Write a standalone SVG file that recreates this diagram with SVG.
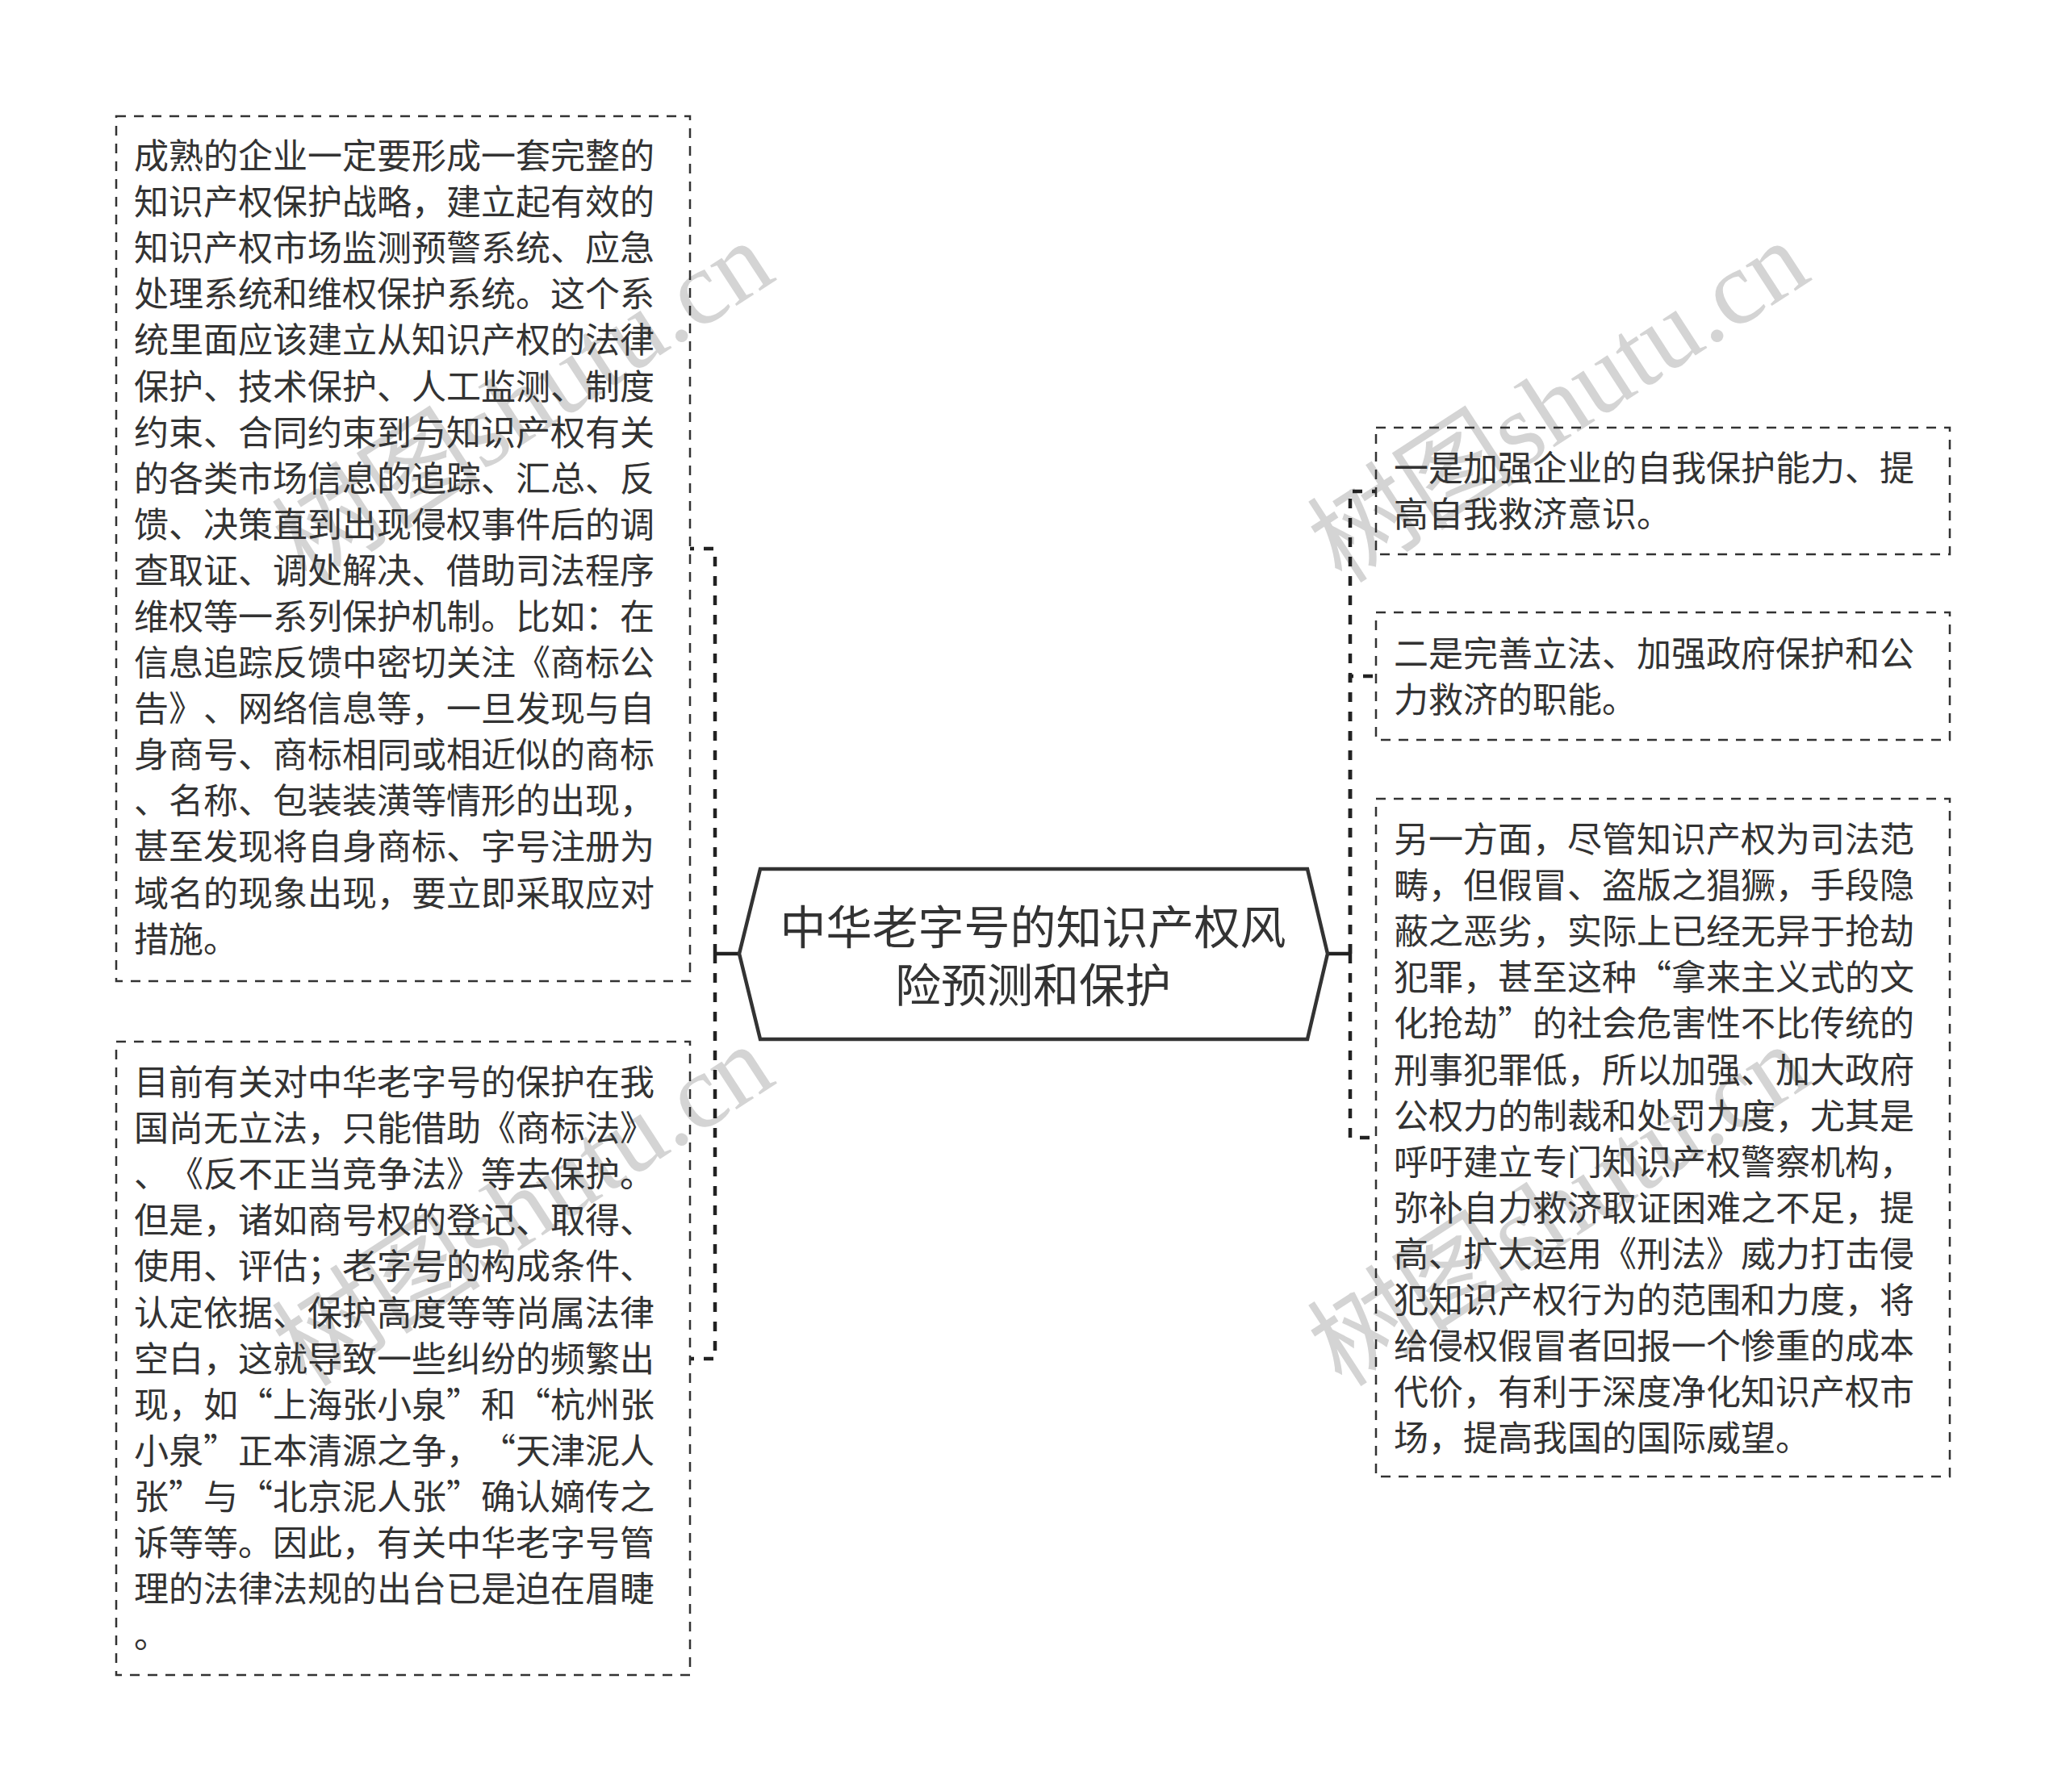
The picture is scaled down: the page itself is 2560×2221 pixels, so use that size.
<svg xmlns="http://www.w3.org/2000/svg" width="2560" height="2221" viewBox="0 0 2560 2221">
<style>
.box{fill:none;stroke:#333;stroke-width:2.5;stroke-dasharray:12 10}
.t{font-family:"Noto Sans CJK SC","Noto Sans",sans-serif;font-size:43px;fill:#333;text-spacing-trim:space-all;font-kerning:none}
.title{font-family:"Noto Sans CJK SC","Noto Sans",sans-serif;font-size:57px;fill:#333;text-anchor:middle}
.conn{fill:none;stroke:#222;stroke-width:4.5;stroke-dasharray:12 12}
.stub{fill:none;stroke:#222;stroke-width:4.5}
.wm{font-family:"Liberation Serif","Noto Sans CJK SC",serif;font-size:130px;fill:#d4d4d4}
</style>
<rect width="2560" height="2221" fill="#fff"/>
<g id="watermarks">
<text class="wm" transform="translate(380,725) rotate(-33)">树图shutu.cn</text>
<text class="wm" transform="translate(1663,725) rotate(-33)">树图shutu.cn</text>
<text class="wm" transform="translate(380,1721) rotate(-33)">树图shutu.cn</text>
<text class="wm" transform="translate(1663,1721) rotate(-33)">树图shutu.cn</text>
</g>
<g id="connectors">
<path class="stub" d="M916 1182 H886"/>
<path class="conn" d="M886 1182 V680 H855"/>
<path class="conn" d="M886 1182 V1684 H855"/>
<path class="stub" d="M1645 1182 H1673"/>
<path class="conn" d="M1673 1182 V609 H1705"/>
<path class="conn" d="M1673 1182 V838 H1705"/>
<path class="conn" d="M1673 1182 V1410 H1705"/>
</g>
<g id="center">
<polygon points="916,1182 942,1077 1620,1077 1645,1182 1620,1288 942,1288" fill="#fff" stroke="#333" stroke-width="4.5"/>
<text class="title"><tspan x="1280" y="1170">中华老字号的知识产权风</tspan><tspan x="1280" y="1242">险预测和保护</tspan></text>
</g>
<g id="left1">
<rect class="box" x="144" y="144" width="711" height="1072"/>
<text class="t"><tspan x="166" y="209">成熟的企业一定要形成一套完整的</tspan><tspan x="166" dy="57.1">知识产权保护战略，建立起有效的</tspan><tspan x="166" dy="57.1">知识产权市场监测预警系统、应急</tspan><tspan x="166" dy="57.1">处理系统和维权保护系统。这个系</tspan><tspan x="166" dy="57.1">统里面应该建立从知识产权的法律</tspan><tspan x="166" dy="57.1">保护、技术保护、人工监测、制度</tspan><tspan x="166" dy="57.1">约束、合同约束到与知识产权有关</tspan><tspan x="166" dy="57.1">的各类市场信息的追踪、汇总、反</tspan><tspan x="166" dy="57.1">馈、决策直到出现侵权事件后的调</tspan><tspan x="166" dy="57.1">查取证、调处解决、借助司法程序</tspan><tspan x="166" dy="57.1">维权等一系列保护机制。比如：在</tspan><tspan x="166" dy="57.1">信息追踪反馈中密切关注《商标公</tspan><tspan x="166" dy="57.1" textLength="645" lengthAdjust="spacing">告》、网络信息等，一旦发现与自</tspan><tspan x="166" dy="57.1">身商号、商标相同或相近似的商标</tspan><tspan x="166" dy="57.1">、名称、包装装潢等情形的出现，</tspan><tspan x="166" dy="57.1">甚至发现将自身商标、字号注册为</tspan><tspan x="166" dy="57.1">域名的现象出现，要立即采取应对</tspan><tspan x="166" dy="57.1">措施。</tspan></text>
</g>
<g id="left2">
<rect class="box" x="144" y="1291" width="711" height="785"/>
<text class="t"><tspan x="166" y="1357">目前有关对中华老字号的保护在我</tspan><tspan x="166" dy="57.1">国尚无立法，只能借助《商标法》</tspan><tspan x="166" dy="57.1" textLength="645" lengthAdjust="spacing">、《反不正当竞争法》等去保护。</tspan><tspan x="166" dy="57.1">但是，诸如商号权的登记、取得、</tspan><tspan x="166" dy="57.1">使用、评估；老字号的构成条件、</tspan><tspan x="166" dy="57.1">认定依据、保护高度等等尚属法律</tspan><tspan x="166" dy="57.1">空白，这就导致一些纠纷的频繁出</tspan><tspan x="166" dy="57.1">现，如“上海张小泉”和“杭州张</tspan><tspan x="166" dy="57.1" textLength="645" lengthAdjust="spacing">小泉”正本清源之争，“天津泥人</tspan><tspan x="166" dy="57.1">张”与“北京泥人张”确认嫡传之</tspan><tspan x="166" dy="57.1">诉等等。因此，有关中华老字号管</tspan><tspan x="166" dy="57.1">理的法律法规的出台已是迫在眉睫</tspan><tspan x="166" dy="57.1">。</tspan></text>
</g>
<g id="right1">
<rect class="box" x="1705" y="530" width="711" height="157"/>
<text class="t"><tspan x="1727" y="596">一是加强企业的自我保护能力、提</tspan><tspan x="1727" dy="57.1">高自我救济意识。</tspan></text>
</g>
<g id="right2">
<rect class="box" x="1705" y="759" width="711" height="158"/>
<text class="t"><tspan x="1727" y="826">二是完善立法、加强政府保护和公</tspan><tspan x="1727" dy="57.1">力救济的职能。</tspan></text>
</g>
<g id="right3">
<rect class="box" x="1705" y="990" width="711" height="840"/>
<text class="t"><tspan x="1727" y="1056">另一方面，尽管知识产权为司法范</tspan><tspan x="1727" dy="57.1">畴，但假冒、盗版之猖獗，手段隐</tspan><tspan x="1727" dy="57.1">蔽之恶劣，实际上已经无异于抢劫</tspan><tspan x="1727" dy="57.1">犯罪，甚至这种“拿来主义式的文</tspan><tspan x="1727" dy="57.1">化抢劫”的社会危害性不比传统的</tspan><tspan x="1727" dy="57.1">刑事犯罪低，所以加强、加大政府</tspan><tspan x="1727" dy="57.1">公权力的制裁和处罚力度，尤其是</tspan><tspan x="1727" dy="57.1">呼吁建立专门知识产权警察机构，</tspan><tspan x="1727" dy="57.1">弥补自力救济取证困难之不足，提</tspan><tspan x="1727" dy="57.1">高、扩大运用《刑法》威力打击侵</tspan><tspan x="1727" dy="57.1">犯知识产权行为的范围和力度，将</tspan><tspan x="1727" dy="57.1">给侵权假冒者回报一个惨重的成本</tspan><tspan x="1727" dy="57.1">代价，有利于深度净化知识产权市</tspan><tspan x="1727" dy="57.1">场，提高我国的国际威望。</tspan></text>
</g>
</svg>
